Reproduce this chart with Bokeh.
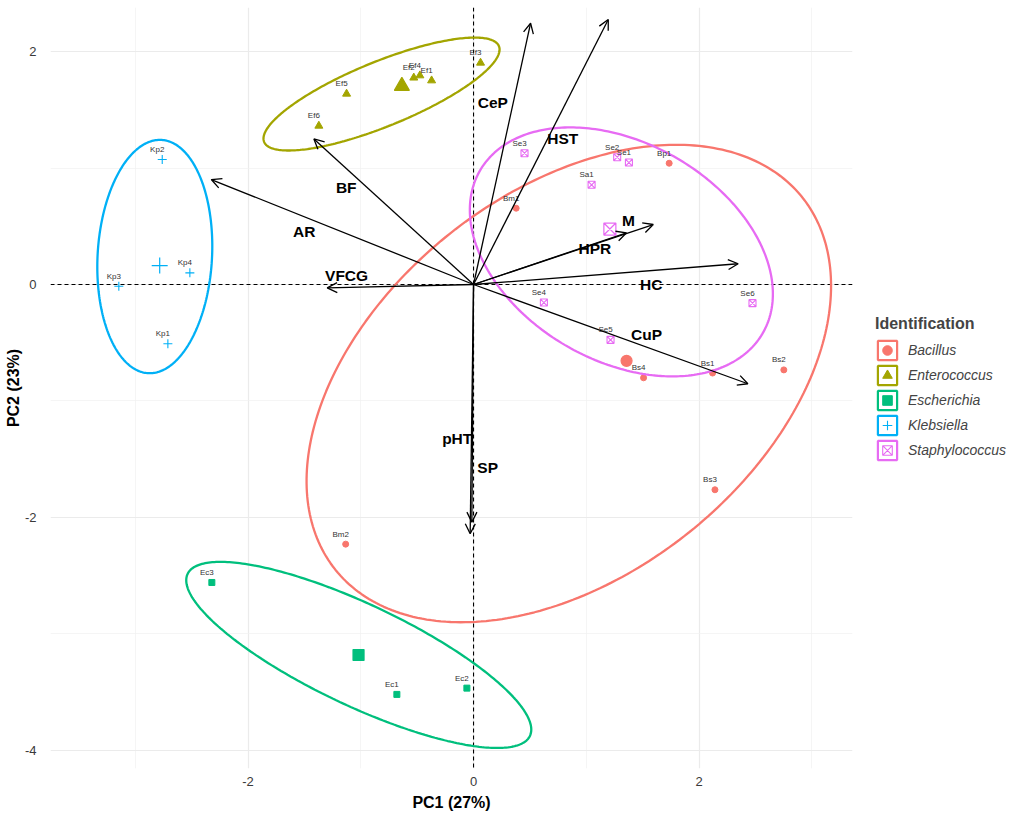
import numpy as np
from bokeh.plotting import figure
from bokeh.models import (ColumnDataSource, Range1d, FixedTicker, Span, Arrow,
                          OpenHead, Legend, LegendItem)
from bokeh.core.properties import value
from bokeh.embed import file_html
from bokeh.resources import INLINE

FONT = "Liberation Sans"

# ---------------- data ----------------
groups = ["Bacillus", "Enterococcus", "Escherichia", "Klebsiella", "Staphylococcus"]
colors = ["#F8766D", "#A3A500", "#00BF7D", "#00B0F6", "#E76BF3"]
markers = ["circle", "triangle", "square", "cross", "square_x"]

bac_names = ["Bp1", "Bm1", "Bs4", "Bs1", "Bs2", "Bs3", "Bm2"]
bac_x = [1.735, 0.378, 1.508, 2.12, 2.752, 2.141, -1.134]
bac_y = [1.041, 0.655, -0.801, -0.76, -0.733, -1.762, -2.229]

ent_names = ["Ef3", "Ef4", "Ef1", "Ef2", "Ef5", "Ef6"]
ent_x = [0.062, -0.476, -0.372, -0.53, -1.126, -1.372]
ent_y = [1.903, 1.794, 1.751, 1.775, 1.637, 1.362]

esc_names = ["Ec3", "Ec1", "Ec2"]
esc_x = [-2.321, -0.680, -0.059]
esc_y = [-2.558, -3.519, -3.465]

kle_names = ["Kp2", "Kp4", "Kp3", "Kp1"]
kle_x = [-2.761, -2.516, -3.146, -2.711]
kle_y = [1.073, 0.100, -0.015, -0.509]

sta_names = ["Se3", "Se2", "Se1", "Sa1", "Se4", "Se6", "Se5"]
sta_x = [0.452, 1.274, 1.378, 1.047, 0.624, 2.474, 1.215]
sta_y = [1.127, 1.093, 1.047, 0.856, -0.155, -0.160, -0.475]

# concentration ellipses (centre and covariance-like shape), per group
ell_cx = [0.845, -0.816, -1.018, -2.827, 1.311]
ell_cy = [-0.85, 1.635, -3.18, 0.24, 0.28]
ell_sxx = [5.41, 1.096, 2.341, 0.260, 1.806]
ell_syy = [4.20, 0.235, 0.638, 1.003, 1.142]
ell_sxy = [1.95, 0.40, -0.98, 0.045, -0.484]

# variable loadings (arrows) and their label positions
var_names = ["CeP", "HST", "M", "HPR", "HC", "CuP", "VFCG", "AR", "BF", "pHT", "SP"]
var_x = [0.506, 1.195, 1.594, 1.357, 2.347, 2.433, -1.298, -2.326, -1.416, -0.03, -0.015]
var_y = [2.243, 2.275, 0.515, 0.444, 0.178, -0.852, -0.029, 0.901, 1.250, -2.14, -2.04]
lab_x = [0.171, 0.792, 1.375, 1.076, 1.576, 1.534, -1.126, -1.502, -1.129, -0.145, 0.125]
lab_y = [1.565, 1.256, 0.549, 0.306, 0.003, -0.426, 0.077, 0.455, 0.833, -1.325, -1.574]

x_ticks = [-2, 0, 2]
x_minor = [-3, -1, 1, 3]
y_ticks = [-4, -2, 0, 2]
y_minor = [-3, -1, 1]
tick_text = {-4: "-4", -2: "-2", 0: "0", 2: "2"}

all_names = [bac_names, ent_names, esc_names, kle_names, sta_names]
all_x = [bac_x, ent_x, esc_x, kle_x, sta_x]
all_y = [bac_y, ent_y, esc_y, kle_y, sta_y]

small_size = [6, 8, 6, 9, 7]
big_size = [11, 15, 11, 16, 12]

# ---------------- figure ----------------
p = figure(frame_width=802, frame_height=761, output_backend="svg",
           toolbar_location=None,
           x_range=Range1d(-3.752, 3.361), y_range=Range1d(-4.155, 2.378),
           min_border_left=50, min_border_right=155, min_border_top=7,
           min_border_bottom=44)
p.outline_line_color = None
p.background_fill_color = "white"

for ax, ticks, minor in ((p.xaxis, x_ticks, x_minor), (p.yaxis, y_ticks, y_minor)):
    ax.ticker = FixedTicker(ticks=ticks, minor_ticks=minor)
    ax.major_label_overrides = tick_text
    ax.axis_line_color = None
    ax.major_tick_line_color = None
    ax.minor_tick_line_color = None
    ax.major_label_text_font = FONT
    ax.major_label_text_font_size = "13px"
    ax.major_label_text_color = "#3a3a3a"
    ax.axis_label_text_font = FONT
    ax.axis_label_text_font_size = "16px"
    ax.axis_label_text_font_style = "bold"
    ax.axis_label_text_color = "black"

p.xaxis.axis_label = "PC1 (27%)"
p.yaxis.axis_label = "PC2 (23%)"
p.xaxis.major_label_standoff = 2
p.xaxis.axis_label_standoff = 5
p.yaxis.major_label_standoff = 8
p.yaxis.axis_label_standoff = 0

for g, ticks, minor in ((p.xgrid, x_ticks, x_minor), (p.ygrid, y_ticks, y_minor)):
    g.ticker = FixedTicker(ticks=ticks, minor_ticks=minor)
    g.grid_line_color = "#EBEBEB"
    g.grid_line_width = 1.2
    g.minor_grid_line_color = "#F0F0F0"
    g.minor_grid_line_width = 0.7

p.add_layout(Span(location=0, dimension="width", line_color="black",
                  line_dash="4 3", line_width=1.1, level="underlay"))
p.add_layout(Span(location=0, dimension="height", line_color="black",
                  line_dash="4 3", line_width=1.1, level="underlay"))

# small points
point_renderers = []
for i in range(5):
    src = ColumnDataSource(dict(x=all_x[i], y=all_y[i]))
    filled = markers[i] not in ("cross", "square_x")
    r = p.scatter("x", "y", source=src, marker=markers[i], size=small_size[i],
                  fill_color=colors[i] if filled else None,
                  fill_alpha=1 if filled else 0,
                  line_color=colors[i], line_width=1.1 if not filled else 1)
    point_renderers.append(r)

# ellipses
def ellipse_xy(cx, cy, sxx, syy, sxy, n=300):
    L = np.linalg.cholesky(np.array([[sxx, sxy], [sxy, syy]]))
    t = np.linspace(0, 2 * np.pi, n)
    pts = L @ np.vstack([np.cos(t), np.sin(t)])
    return cx + pts[0], cy + pts[1]

for i in range(5):
    ex, ey = ellipse_xy(ell_cx[i], ell_cy[i], ell_sxx[i], ell_syy[i], ell_sxy[i])
    p.line(ex, ey, line_color=colors[i], line_width=2.3)

# group centroids (means)
for i in range(5):
    mx = [float(np.mean(all_x[i]))]
    my = [float(np.mean(all_y[i]))]
    filled = markers[i] not in ("cross", "square_x")
    p.scatter(mx, my, marker=markers[i], size=big_size[i],
              fill_color=colors[i] if filled else None,
              fill_alpha=1 if filled else 0,
              line_color=colors[i], line_width=1.2)

# point labels
lbl_src = ColumnDataSource(dict(
    x=sum(all_x, []), y=sum(all_y, []), t=sum(all_names, [])))
p.text("x", "y", text="t", source=lbl_src, x_offset=-5, y_offset=-10,
       text_font=value(FONT), text_font_size="8px", text_color="#333333",
       text_align="center", text_baseline="middle")

# arrows
arr_src = ColumnDataSource(dict(x0=[0.0] * len(var_x), y0=[0.0] * len(var_y),
                                x1=var_x, y1=var_y))
p.add_layout(Arrow(end=OpenHead(size=10, line_width=1.3, line_color="black"),
                   x_start="x0", y_start="y0", x_end="x1", y_end="y1",
                   source=arr_src, line_width=1.3, line_color="black"))

var_src = ColumnDataSource(dict(x=lab_x, y=lab_y, t=var_names))
p.text("x", "y", text="t", source=var_src, text_font=value(FONT),
       text_font_size="15.5px", text_font_style="bold", text_color="black",
       text_align="center", text_baseline="middle")

# legend
nan = float("nan")
items = []
for i in range(5):
    box = p.quad(left=[nan], right=[nan], top=[nan], bottom=[nan],
                 fill_alpha=0, line_color=colors[i], line_width=2.2)
    items.append(LegendItem(label=groups[i], renderers=[box, point_renderers[i]]))

legend = Legend(items=items, location=(23, 306), title="Identification",
                title_text_font=FONT, title_text_font_size="16px",
                title_text_font_style="bold", title_standoff=5,
                label_text_font=FONT, label_text_font_size="14px",
                label_text_font_style="italic", label_standoff=9,
                glyph_width=24, glyph_height=24, spacing=1, padding=0, margin=0,
                border_line_color=None, background_fill_alpha=0)
p.add_layout(legend, "right")

open("out.html", "w").write(file_html(p, INLINE))
